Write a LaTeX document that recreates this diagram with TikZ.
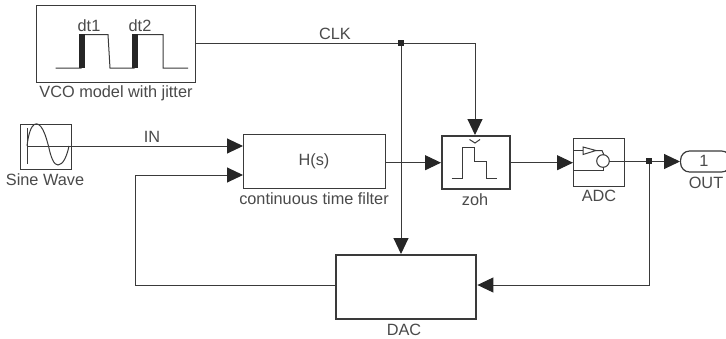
\documentclass[tikz,border=0pt]{standalone}
\usepackage{fontspec}
\setmainfont{Liberation Sans}
\usetikzlibrary{arrows.meta}
\definecolor{ink}{HTML}{3A3A3A}
\definecolor{txt}{HTML}{4A4A4A}
\tikzset{
 block/.style={draw=ink,line width=1.3,inner sep=0pt,anchor=north west},
 thick block/.style={block,line width=2.4},
 lbl/.style={text=txt,font=\fontsize{16.3}{18}\selectfont,inner sep=0pt},
 wire/.style={draw=ink,line width=1},
 arr/.style={wire,-{Triangle[length=16,width=15,color=black!85]}},
 dot/.style={fill=black!85,inner sep=0pt,minimum size=5.5,rectangle},
 icon/.style={draw=ink,line width=1},
}
\begin{document}
\begin{tikzpicture}[x=1pt,y=-1pt]
\useasboundingbox[fill=white] (0,0) rectangle (726,338);
% blocks
\node[block,minimum width=159,minimum height=77] (vco) at (36,5) {};
\node[block,minimum width=51,minimum height=45] (sine) at (20,124) {};
\node[block,minimum width=142,minimum height=54] (filt) at (243,134) {};
\node[thick block,minimum width=68,minimum height=53] (zoh) at (441,135) {};
\node[block,minimum width=51,minimum height=48] (adc) at (573,138) {};
\node[thick block,minimum width=140,minimum height=64] (dac) at (335,254) {};
\node[draw=ink,line width=1.2,rounded corners=9,minimum width=50,minimum height=21,inner sep=0pt,anchor=west] (out) at (680,161.5) {};
% labels
\node[lbl] (vcol) at (116,93) {VCO model with jitter};
\node[lbl] (sinel) at (45,180) {Sine Wave};
\node[lbl] (hs) at (314,161) {H(s)};
\node[lbl] (filtl) at (314,199) {continuous time filter};
\node[lbl] (zohl) at (475,200) {zoh};
\node[lbl] (adcl) at (599,196) {ADC};
\node[lbl] (outn) at (704,161) {1};
\node[lbl] (outl) at (706,183) {OUT};
\node[lbl] (dacl) at (404,330) {DAC};
\node[lbl] (clkl) at (335,34) {CLK};
\node[lbl] (inl) at (152,137) {IN};
\node[lbl] (dt1) at (89,26) {dt1};
\node[lbl] (dt2) at (140,26) {dt2};
% junction points
\coordinate (j1) at (401,43);
\coordinate (j2) at (649,161);
\coordinate (b1) at (475,43);
\coordinate (f1) at (243,146);
\coordinate (f2) at (243,175);
\coordinate (c1) at (135,175);
\coordinate (c2) at (135,285);
\coordinate (c3) at (649,285);
% connectors
\draw[wire] (vco.east |- j1) -- (j1);
\draw[wire] (j1) -- (b1);
\draw[arr] (b1) -- (zoh.north -| b1);
\draw[arr] (j1) -- (dac.north -| j1);
\draw[arr] (sine.east |- f1) -- (f1);
\draw[arr] (dac.west |- c2) -- (c2) -- (c1) -- (f2);
\draw[arr] (filt.east |- zoh.west) -- (zoh.west);
\draw[arr] (zoh.east) -- (adc.west |- zoh.east);
\draw[arr] (adc.east |- out.west) -- (out.west);
\draw[arr] (j2) -- (c3) -- (dac.east |- c3);
\node[dot] (jd1) at (j1) {};
\node[dot] (jd2) at (j2) {};
% pulse icon in VCO
\draw[icon] (55.5,68) -- (81,68) -- (81,34.5) -- (108,34.5) -- (110,68) -- (134,68) -- (134,34.5) -- (163,34.5) -- (163,68) -- (188,68);
\fill[black!85] (79,34) rectangle (85,68);
\fill[black!85] (132,34) rectangle (137.5,68);
% sine icon
\draw[icon] (27,128) -- (27,164);
\draw[icon] (27,146) -- (71,146);
\draw[icon] (27,146) .. controls (30,120) and (38,120) .. (43,130) .. controls (46,136) and (47,141) .. (48.5,146) .. controls (51,158) and (54,165) .. (58,165) .. controls (63,165) and (67,156) .. (69,146);
% zoh icon
\draw[icon] (451.5,178.5) -- (462,178.5) -- (462,147) -- (474,147) -- (474,161) -- (486,161) -- (486,178.5) -- (497,178.5);
\draw[icon] (469.5,139.5) -- (475,143) -- (480,139.5);
% adc icon
\draw[icon] (573,150.5) -- (583,150.5);
\draw[icon] (583,147) -- (583,154.5) -- (596,150.5) -- cycle;
\draw[icon] (596,150.5) -- (602,150.5) -- (604,155);
\draw[icon] (603,161) circle[radius=6.3];
\draw[icon] (573,170) -- (603,170) -- (603,167);
\draw[icon] (609,161) -- (624,161);
\end{tikzpicture}
\end{document}
